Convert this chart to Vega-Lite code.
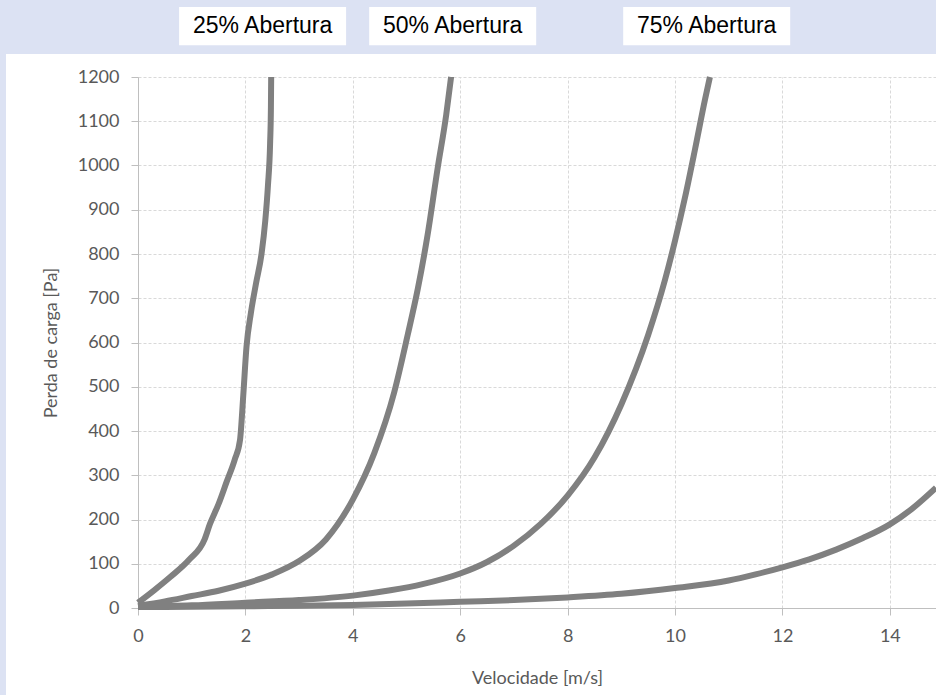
{
  "$schema": "https://vega.github.io/schema/vega-lite/v6.json",
  "width": 930,
  "height": 641,
  "autosize": {"type": "none"},
  "padding": {"left": 6, "top": 54, "right": 0, "bottom": 0},
  "background": "#dce2f3",
  "view": {"fill": "white", "stroke": null},
  "config": {
    "font": "Lato",
    "axis": {
      "labelFont": "Lato",
      "labelFontSize": 18,
      "labelColor": "#595959",
      "titleFont": "Lato",
      "titleFontSize": 18,
      "titleColor": "#595959",
      "titleFontWeight": "normal",
      "domainColor": "#bfbfbf",
      "tickColor": "#bfbfbf",
      "tickSize": 7,
      "gridColor": "#d9d9d9",
      "gridDash": [3, 2],
      "labelFlush": false
    }
  },
  "resolve": {"axis": {"x": "independent"}},
  "datasets": {
    "curvas": [
      {"serie": "25% Abertura", "v": 0, "p": 12},
      {"serie": "25% Abertura", "v": 0.3, "p": 40},
      {"serie": "25% Abertura", "v": 0.6, "p": 70},
      {"serie": "25% Abertura", "v": 0.96, "p": 110},
      {"serie": "25% Abertura", "v": 1.24, "p": 155},
      {"serie": "25% Abertura", "v": 1.34, "p": 190},
      {"serie": "25% Abertura", "v": 1.5, "p": 235},
      {"serie": "25% Abertura", "v": 1.65, "p": 285},
      {"serie": "25% Abertura", "v": 1.8, "p": 335},
      {"serie": "25% Abertura", "v": 1.9, "p": 380},
      {"serie": "25% Abertura", "v": 1.96, "p": 480},
      {"serie": "25% Abertura", "v": 2.02, "p": 590},
      {"serie": "25% Abertura", "v": 2.1, "p": 665},
      {"serie": "25% Abertura", "v": 2.2, "p": 735},
      {"serie": "25% Abertura", "v": 2.3, "p": 800},
      {"serie": "25% Abertura", "v": 2.37, "p": 875},
      {"serie": "25% Abertura", "v": 2.42, "p": 955},
      {"serie": "25% Abertura", "v": 2.46, "p": 1050},
      {"serie": "25% Abertura", "v": 2.475, "p": 1130},
      {"serie": "25% Abertura", "v": 2.48, "p": 1200},
      {"serie": "50% Abertura", "v": 0, "p": 5},
      {"serie": "50% Abertura", "v": 0.5, "p": 15},
      {"serie": "50% Abertura", "v": 1, "p": 27},
      {"serie": "50% Abertura", "v": 1.5, "p": 39},
      {"serie": "50% Abertura", "v": 2, "p": 55},
      {"serie": "50% Abertura", "v": 2.5, "p": 76},
      {"serie": "50% Abertura", "v": 3, "p": 106},
      {"serie": "50% Abertura", "v": 3.5, "p": 155},
      {"serie": "50% Abertura", "v": 4, "p": 245},
      {"serie": "50% Abertura", "v": 4.4, "p": 350},
      {"serie": "50% Abertura", "v": 4.77, "p": 487},
      {"serie": "50% Abertura", "v": 5.02, "p": 616},
      {"serie": "50% Abertura", "v": 5.21, "p": 721},
      {"serie": "50% Abertura", "v": 5.39, "p": 841},
      {"serie": "50% Abertura", "v": 5.58, "p": 994},
      {"serie": "50% Abertura", "v": 5.74, "p": 1115},
      {"serie": "50% Abertura", "v": 5.83, "p": 1200},
      {"serie": "75% Abertura", "v": 0, "p": 3},
      {"serie": "75% Abertura", "v": 1, "p": 6},
      {"serie": "75% Abertura", "v": 2, "p": 12},
      {"serie": "75% Abertura", "v": 3, "p": 18},
      {"serie": "75% Abertura", "v": 4, "p": 28},
      {"serie": "75% Abertura", "v": 4.7, "p": 40},
      {"serie": "75% Abertura", "v": 5.3, "p": 54},
      {"serie": "75% Abertura", "v": 6, "p": 78},
      {"serie": "75% Abertura", "v": 6.5, "p": 104},
      {"serie": "75% Abertura", "v": 7, "p": 141},
      {"serie": "75% Abertura", "v": 7.5, "p": 190},
      {"serie": "75% Abertura", "v": 8, "p": 254},
      {"serie": "75% Abertura", "v": 8.5, "p": 340},
      {"serie": "75% Abertura", "v": 9, "p": 460},
      {"serie": "75% Abertura", "v": 9.5, "p": 617},
      {"serie": "75% Abertura", "v": 9.81, "p": 740},
      {"serie": "75% Abertura", "v": 10, "p": 830},
      {"serie": "75% Abertura", "v": 10.19, "p": 930},
      {"serie": "75% Abertura", "v": 10.37, "p": 1035},
      {"serie": "75% Abertura", "v": 10.56, "p": 1150},
      {"serie": "75% Abertura", "v": 10.65, "p": 1200},
      {"serie": "100% Abertura", "v": 0, "p": 2},
      {"serie": "100% Abertura", "v": 1, "p": 3},
      {"serie": "100% Abertura", "v": 2, "p": 4},
      {"serie": "100% Abertura", "v": 3, "p": 5},
      {"serie": "100% Abertura", "v": 4, "p": 7},
      {"serie": "100% Abertura", "v": 5, "p": 10},
      {"serie": "100% Abertura", "v": 6, "p": 14},
      {"serie": "100% Abertura", "v": 7, "p": 18},
      {"serie": "100% Abertura", "v": 8, "p": 24},
      {"serie": "100% Abertura", "v": 9, "p": 32},
      {"serie": "100% Abertura", "v": 10, "p": 45},
      {"serie": "100% Abertura", "v": 11, "p": 62},
      {"serie": "100% Abertura", "v": 11.5, "p": 76},
      {"serie": "100% Abertura", "v": 12, "p": 92},
      {"serie": "100% Abertura", "v": 12.5, "p": 110},
      {"serie": "100% Abertura", "v": 13, "p": 132},
      {"serie": "100% Abertura", "v": 13.5, "p": 158},
      {"serie": "100% Abertura", "v": 14, "p": 189},
      {"serie": "100% Abertura", "v": 14.4, "p": 223},
      {"serie": "100% Abertura", "v": 14.86, "p": 272}
    ],
    "rotulos": [
      {"serie": "25% Abertura", "v": 2.32},
      {"serie": "50% Abertura", "v": 5.86},
      {"serie": "75% Abertura", "v": 10.59}
    ]
  },
  "layer": [
    {
      "data": {"name": "curvas"},
      "mark": {"type": "line", "interpolate": "monotone", "strokeWidth": 6, "color": "#808080", "strokeJoin": "round"},
      "encoding": {
        "x": {
          "field": "v",
          "type": "quantitative",
          "title": "Velocidade [m/s]",
          "scale": {"domain": [0, 14.86], "range": [132, 930], "nice": false, "zero": false},
          "axis": {"orient": "bottom", "grid": false, "values": [0, 2, 4, 6, 8, 10, 12, 14], "format": "d", "offset": -87, "labelPadding": 12, "titlePadding": 24}
        },
        "y": {
          "field": "p",
          "type": "quantitative",
          "title": "Perda de carga [Pa]",
          "scale": {"domain": [0, 1200], "range": [554, 23], "nice": false, "zero": false},
          "axis": {"grid": true, "values": [0, 100, 200, 300, 400, 500, 600, 700, 800, 900, 1000, 1100, 1200], "format": "d", "offset": -132, "labelPadding": 12, "titlePadding": 17}
        },
        "detail": {"field": "serie", "type": "nominal"}
      }
    },
    {
      "data": {"name": "rotulos"},
      "mark": {"type": "point", "shape": "M-1,-0.228L1,-0.228L1,0.228L-1,0.228Z", "size": 27889, "filled": true, "fill": "white", "opacity": 1, "strokeWidth": 0},
      "encoding": {
        "x": {
          "field": "v",
          "type": "quantitative",
          "axis": {"orient": "top", "values": [0, 2, 4, 6, 8, 10, 12, 14], "grid": true, "labels": false, "ticks": false, "domain": false, "title": null}
        },
        "y": {"datum": 1315, "type": "quantitative", "title": "Perda de carga [Pa]"}
      }
    },
    {
      "data": {"name": "rotulos"},
      "mark": {"type": "text", "font": "Liberation Sans", "fontSize": 23, "color": "black", "baseline": "middle", "align": "center"},
      "encoding": {
        "x": {"field": "v", "type": "quantitative", "axis": null},
        "y": {"datum": 1315, "type": "quantitative", "title": "Perda de carga [Pa]"},
        "text": {"field": "serie"}
      }
    }
  ]
}
